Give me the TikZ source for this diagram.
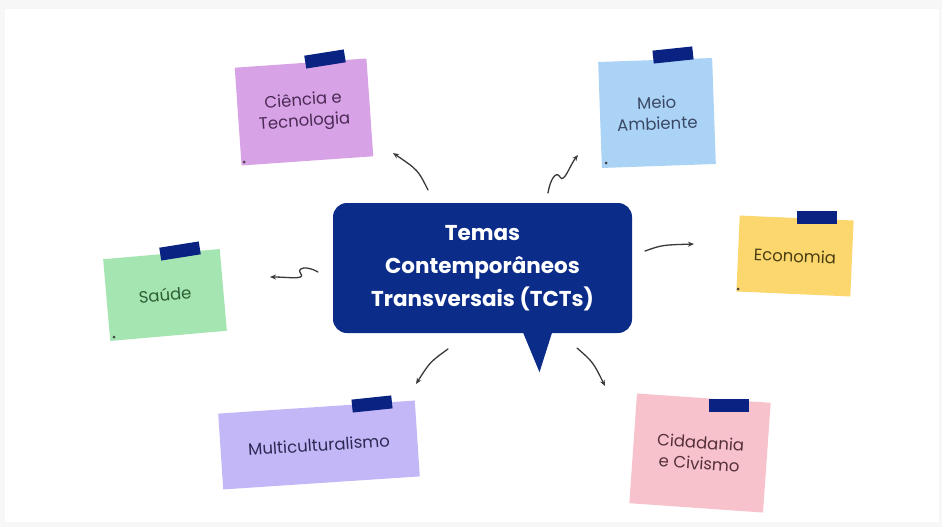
\documentclass[tikz,border=0pt]{standalone}
\usepackage{fontspec}
\setmainfont{Poppins}
\usetikzlibrary{arrows.meta,calc}
\definecolor{navy}{HTML}{0B2C88}
\definecolor{tapec}{HTML}{0A2382}
\definecolor{cpink}{HTML}{D8A2E6}
\definecolor{cblue}{HTML}{AAD3F5}
\definecolor{cgreen}{HTML}{A4E5B1}
\definecolor{cyellow}{HTML}{FBD76E}
\definecolor{clav}{HTML}{C3B7F7}
\definecolor{crose}{HTML}{F7C2CC}
\definecolor{arrowc}{HTML}{3A3A3A}
\definecolor{tpink}{HTML}{4A2A55}
\definecolor{tblue}{HTML}{3A4866}
\definecolor{tgreen}{HTML}{2E5E36}
\definecolor{tyellow}{HTML}{4A3E12}
\definecolor{tlav}{HTML}{2C2A55}
\definecolor{trose}{HTML}{553038}
\tikzset{
  note/.style={fill=#1, inner sep=4pt, align=center, font=\fontsize{16.5}{21}\selectfont},
  tape/.style={fill=tapec, minimum width=40pt, minimum height=13pt, inner sep=0pt},
  pin/.style={circle, fill=black!75, inner sep=0pt, minimum size=3pt},
  bubble/.style={fill=navy, rounded corners=14pt, text=white, align=center,
    font=\fontsize{21.5}{33}\selectfont\bfseries},
  link/.style={draw=arrowc, line width=1.3pt, line cap=round, -{Stealth[length=6pt,width=5pt]}}
}
\begin{document}
\begin{tikzpicture}[x=1pt,y=-1pt]
\useasboundingbox (0,0) rectangle (942,527);
\fill[black!3] (0,0) rectangle (942,527);
\fill[white] (5,9) rectangle (939,522);

% central bubble
\node[bubble, minimum width=299pt, minimum height=130pt] (tct) at (482.5,268)
  {Temas\\Contemporâneos\\Transversais (TCTs)};
\fill[navy] ($(tct.south)+(40,-2)$) -- ($(tct.south)+(57,39)$) -- ($(tct.south)+(70,-2)$) -- cycle;

% notes
\node[note=cpink, rotate=4, minimum width=132pt, minimum height=98pt, text=tpink] (cien) at (304,112) {Ciência e\\Tecnologia};
\node[tape, rotate=9] (t1) at (325,59) {};
\node[pin] (p1) at (244,162) {};

\node[note=cblue, rotate=2, minimum width=114pt, minimum height=106pt, text=tblue] (meio) at (657,113) {Meio\\Ambiente};
\node[tape, rotate=6] (t2) at (673,55) {};
\node[pin] (p2) at (606,163) {};

\node[note=cgreen, rotate=5, minimum width=117pt, minimum height=82pt, text=tgreen] (saude) at (165,295) {Saúde};
\node[tape, rotate=9] (t3) at (180,251) {};
\node[pin] (p3) at (114,337) {};

\node[note=cyellow, rotate=-2.5, minimum width=114pt, minimum height=76pt, text=tyellow] (eco) at (795,256) {Economia};
\node[tape, rotate=0] (t4) at (817,217) {};
\node[pin] (p4) at (738,289) {};

\node[note=clav, rotate=3.8, minimum width=197pt, minimum height=76pt, text=tlav] (multi) at (319,445) {Multiculturalismo};
\node[tape, rotate=6] (t5) at (372,404) {};

\node[note=crose, rotate=-4, minimum width=134pt, minimum height=110pt, text=trose] (cid) at (700,453) {Cidadania\\e Civismo};
\node[tape, rotate=0] (t6) at (729,405) {};

% connector end points
\coordinate (a1s) at (428,190); \coordinate (a1e) at (393,153);
\coordinate (a2s) at (548,193); \coordinate (a2e) at (578,155);
\coordinate (a3s) at (318,272); \coordinate (a3e) at (270,277);
\coordinate (a4s) at (645,251); \coordinate (a4e) at (694,244);
\coordinate (a5s) at (448,349); \coordinate (a5e) at (416,384);
\coordinate (a6s) at (577,348); \coordinate (a6e) at (605,386);

\draw[link] (a1s) .. controls (418,170) .. (a1e);
\draw[link] (a2s) .. controls (550,180) and (556,170) .. (560,177) .. controls (564,184) and (570,165) .. (a2e);
\draw[link] (a3s) .. controls (306,265) and (296,268) .. (301,274) .. controls (305,280) and (288,277) .. (a3e);
\draw[link] (a4s) .. controls (662,245) .. (a4e);
\draw[link] (a5s) .. controls (430,362) .. (a5e);
\draw[link] (a6s) .. controls (593,362) .. (a6e);
\end{tikzpicture}
\end{document}
